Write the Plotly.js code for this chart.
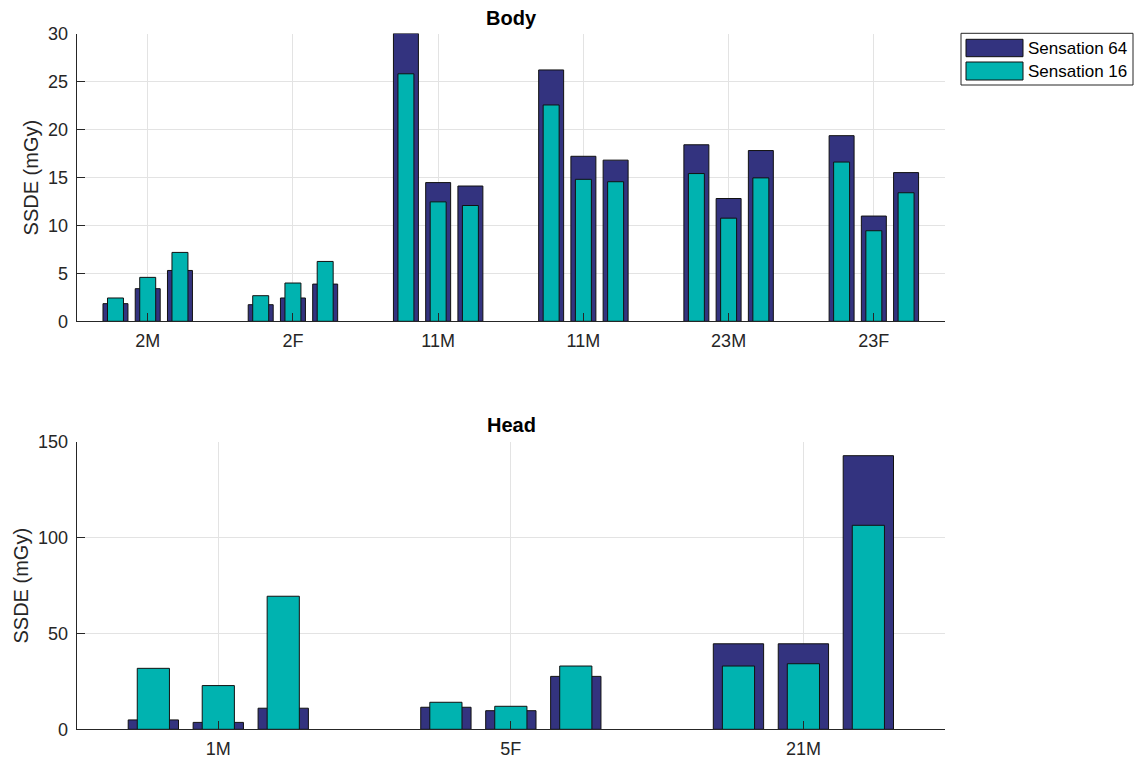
<!DOCTYPE html>
<html>
<head>
<meta charset="utf-8">
<script src="https://cdn.plot.ly/plotly-3.0.1.min.js"></script>
<style>html,body{margin:0;padding:0;background:#fff;}#chart{width:1139px;height:762px;}</style>
</head>
<body>
<div id="chart"></div>
<script>
// ---- data ----
const bodyCategories = ['2M', '2F', '11M', '11M', '23M', '23F'];
const headCategories = ['1M', '5F', '21M'];
const seriesNames = ['Sensation 64', 'Sensation 16'];
const yTitle = 'SSDE (mGy)';
// three scans per patient, in order
const bodySensation64 = [1.84, 3.4, 5.3, 1.73, 2.43, 3.88, 30.0, 14.46, 14.1, 26.2, 17.2, 16.8, 18.4, 12.8, 17.8, 19.35, 10.97, 15.5];
const bodySensation16 = [2.43, 4.58, 7.18, 2.67, 3.99, 6.24, 25.8, 12.45, 12.07, 22.55, 14.8, 14.55, 15.4, 10.75, 14.95, 16.6, 9.44, 13.4];
const headSensation64 = [4.9, 3.6, 11.0, 11.5, 9.7, 27.6, 44.6, 44.6, 142.7];
const headSensation16 = [31.8, 22.8, 69.4, 14.1, 12.0, 33.0, 33.0, 34.2, 106.4];
const barsPerGroup = 3;

// ---- styling ----
const W = 1139, H = 762;
const FONT = '"Liberation Sans", Arial, Helvetica, sans-serif';
const C64 = '#33337f';
const C16 = '#00b3b0';
const AX = '#262626';
const GRID = '#e3e3e3';
const fx = p => p / W;
const fy = p => 1 - p / H;

function positions(n) {
  const xs = [];
  for (let g = 0; g < n; g++) for (let k = 0; k < barsPerGroup; k++) xs.push(g + 1 + (k - 1) * 0.222);
  return xs;
}
const bodyX = positions(bodyCategories.length);
const headX = positions(headCategories.length);

function bar(x, y, name, color, width, xa, ya) {
  return {type: 'bar', x: x, y: y, name: name, width: width, xaxis: xa, yaxis: ya,
    marker: {color: color, line: {color: '#111', width: 1}}, showlegend: false, hoverinfo: 'x+y+name'};
}
const traces = [
  bar(bodyX, bodySensation64, seriesNames[0], C64, 0.172, 'x', 'y'),
  bar(bodyX, bodySensation16, seriesNames[1], C16, 0.11, 'x', 'y'),
  bar(headX, headSensation64, seriesNames[0], C64, 0.172, 'x2', 'y2'),
  bar(headX, headSensation16, seriesNames[1], C16, 0.11, 'x2', 'y2'),
];

const xdom = [fx(76.7), fx(945)];
function xaxis(cats, range, anchor) {
  return {domain: xdom, range: range, anchor: anchor, tickvals: cats.map((c, i) => i + 1), ticktext: cats,
    showline: true, linecolor: AX, linewidth: 1, ticks: 'inside', ticklen: 8, tickcolor: AX, ticklabelstandoff: 3,
    showgrid: true, gridcolor: GRID, zeroline: false, tickfont: {family: FONT, size: 18, color: AX}, fixedrange: true};
}
function yaxis(dom, range, dtick, anchor) {
  return {domain: dom, range: range, dtick: dtick, anchor: anchor,
    showline: true, linecolor: AX, linewidth: 1, ticks: 'inside', ticklen: 8, tickcolor: AX,
    showgrid: true, gridcolor: GRID, zeroline: false, ticklabelstandoff: 4,
    tickfont: {family: FONT, size: 18, color: AX}, fixedrange: true};
}

const legendBox = {x0: 961, x1: 1133, y0: 33.3, y1: 85};
const sw = [{y0: 39.3, y1: 56.7, c: C64}, {y0: 62, y1: 80, c: C16}];
const shapes = [
  {type: 'rect', xref: 'paper', yref: 'paper', x0: fx(legendBox.x0), x1: fx(legendBox.x1), y0: fy(legendBox.y1), y1: fy(legendBox.y0),
    line: {color: AX, width: 1}, fillcolor: '#fff'},
];
const annotations = [
  {text: '<b>Body</b>', xref: 'paper', yref: 'paper', x: fx(511), y: fy(18), xanchor: 'center', yanchor: 'middle', showarrow: false,
    font: {family: FONT, size: 20, color: '#000'}},
  {text: '<b>Head</b>', xref: 'paper', yref: 'paper', x: fx(511), y: fy(425), xanchor: 'center', yanchor: 'middle', showarrow: false,
    font: {family: FONT, size: 20, color: '#000'}},
  {text: yTitle, xref: 'paper', yref: 'paper', x: fx(31), y: fy(177.4), textangle: -90, xanchor: 'center', yanchor: 'middle', showarrow: false,
    font: {family: FONT, size: 20, color: AX}},
  {text: yTitle, xref: 'paper', yref: 'paper', x: fx(20), y: fy(585.5), textangle: -90, xanchor: 'center', yanchor: 'middle', showarrow: false,
    font: {family: FONT, size: 20, color: AX}},
];
sw.forEach((s, i) => {
  shapes.push({type: 'rect', xref: 'paper', yref: 'paper', x0: fx(966), x1: fx(1023), y0: fy(s.y1), y1: fy(s.y0),
    line: {color: '#111', width: 1}, fillcolor: s.c});
  annotations.push({text: seriesNames[i], xref: 'paper', yref: 'paper', x: fx(1026), y: fy((s.y0 + s.y1) / 2),
    xanchor: 'left', yanchor: 'middle', showarrow: false, font: {family: FONT, size: 17, color: '#000'}});
});

const layout = {
  width: W, height: H, margin: {l: 0, r: 0, t: 0, b: 0},
  paper_bgcolor: '#fff', plot_bgcolor: '#fff',
  barmode: 'overlay', showlegend: false,
  xaxis: xaxis(bodyCategories, [0.511, 6.49], 'y'),
  yaxis: yaxis([fy(321.3), fy(33.5)], [0, 30], 5, 'x'),
  xaxis2: xaxis(headCategories, [0.516, 3.484], 'y2'),
  yaxis2: yaxis([fy(729.3), fy(441.7)], [0, 150], 50, 'x2'),
  shapes: shapes, annotations: annotations,
};
Plotly.newPlot('chart', traces, layout, {displayModeBar: false, staticPlot: true});
</script>
</body>
</html>
